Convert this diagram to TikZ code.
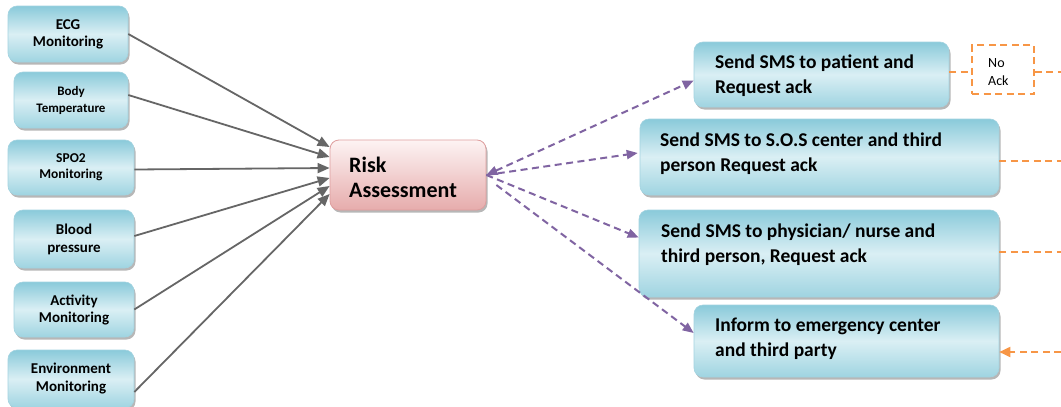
\documentclass[tikz,border=0pt]{standalone}
\usepackage{fontspec}
\setmainfont{Carlito}
\usetikzlibrary{arrows.meta,shadows,calc}
\definecolor{boxtop}{HTML}{8ACADA}
\definecolor{boxmid}{HTML}{DAEFF4}
\definecolor{boxbot}{HTML}{9FD4E1}
\definecolor{boxedge}{HTML}{A3D3E0}
\definecolor{risktop}{HTML}{FDF3F3}
\definecolor{riskbot}{HTML}{E6ACAC}
\definecolor{riskedge}{HTML}{DE9E9E}
\definecolor{garrowc}{HTML}{666666}
\definecolor{parrowc}{HTML}{8064A2}
\definecolor{oline}{HTML}{F79646}
\begin{document}
\begin{tikzpicture}[x=1pt,y=-1pt,
  bluebox/.style={rounded corners=9pt, draw=boxedge, line width=0.6pt,
    top color=boxtop, bottom color=boxbot, middle color=boxmid,
    drop shadow={shadow xshift=1.5pt, shadow yshift=-2.5pt, opacity=0.4, fill=black!70},
    inner sep=0pt, align=center},
  riskbox/.style={rounded corners=9pt, draw=riskedge, line width=0.8pt,
    top color=risktop, bottom color=riskbot,
    drop shadow={shadow xshift=1.5pt, shadow yshift=-2.5pt, opacity=0.4, fill=black!70},
    inner sep=0pt},
  txt/.style={anchor=west, align=left, inner sep=0pt},
  garrow/.style={draw=garrowc, line width=1.8pt, -{Triangle[length=12pt,width=10pt]}},
  parrow/.style={draw=parrowc, line width=2pt, dash pattern=on 7pt off 4.5pt},
  olinestyle/.style={draw=oline, line width=1.8pt, dash pattern=on 7pt off 4.5pt}
]
\fill[white] (0,0) rectangle (1061,407);
\useasboundingbox (0,0) rectangle (1061,407);

% left boxes
\node[bluebox, minimum width=120pt, minimum height=56pt, font=\fontsize{15}{17}\selectfont\bfseries] (ecg) at (68,34) {ECG\\Monitoring};
\node[bluebox, minimum width=114pt, minimum height=56pt, font=\fontsize{13}{17}\selectfont\bfseries] (body) at (71,100) {Body\\Temperature};
\node[bluebox, minimum width=126pt, minimum height=55pt, font=\fontsize{13.5}{16}\selectfont\bfseries] (spo) at (71,167.5) {SPO2\\Monitoring};
\node[bluebox, minimum width=120pt, minimum height=58pt, font=\fontsize{15}{18}\selectfont\bfseries] (blood) at (74,239) {Blood\\pressure};
\node[bluebox, minimum width=120pt, minimum height=55pt, font=\fontsize{15}{17}\selectfont\bfseries] (act) at (74,309.5) {Activity\\Monitoring};
\node[bluebox, minimum width=126pt, minimum height=58pt, font=\fontsize{15}{18}\selectfont\bfseries] (env) at (71,379) {Environment\\Monitoring};

% risk
\node[riskbox, minimum width=156pt, minimum height=70pt] (risk) at (408,175) {};
\node[txt, font=\fontsize{22}{25}\selectfont\bfseries] (risktxt) at (349,177.5) {Risk\\Assessment};

% right boxes
\node[bluebox, minimum width=255pt, minimum height=65pt] (b1) at (821.5,74.5) {};
\node[bluebox, minimum width=359pt, minimum height=76pt] (b2) at (819.5,157) {};
\node[bluebox, minimum width=360pt, minimum height=87pt] (b3) at (819,253.5) {};
\node[bluebox, minimum width=305pt, minimum height=72pt] (b4) at (846.5,341) {};
\node[txt, font=\fontsize{19.5}{25}\selectfont\bfseries] (t1) at (715,75.5) {Send SMS to patient and\\Request ack};
\node[txt, font=\fontsize{19.5}{25}\selectfont\bfseries] (t2) at (660,154) {Send SMS to S.O.S center and third\\person Request ack};
\node[txt, font=\fontsize{19.5}{25}\selectfont\bfseries] (t3) at (661,245) {Send SMS to physician/ nurse and\\third person, Request ack};
\node[txt, font=\fontsize{19.5}{25}\selectfont\bfseries] (t4) at (715,338.5) {Inform to emergency center\\and third party};

% no ack
\node[draw=oline, line width=1.8pt, dash pattern=on 7pt off 4.5pt, fill=white, minimum width=62pt, minimum height=49pt, inner sep=0pt] (noack) at (1003,69.5) {};
\node[txt, font=\fontsize{14}{18}\selectfont] (noacktxt) at (988,72) {No\\Ack};

% gray arrows
\draw[garrow] (ecg.east) -- ($(risk.west)+(0,-28)$);
\draw[garrow] ($(body.east)+(0,-5)$) -- ($(risk.west)+(0,-18)$);
\draw[garrow] ($(spo.east)+(0,2)$) -- ($(risk.west)+(0,-7)$);
\draw[garrow] ($(blood.east)+(0,-3)$) -- ($(risk.west)+(0,3)$);
\draw[garrow] (act.east) -- ($(risk.west)+(0,11)$);
\draw[garrow] ($(env.east)+(0,13)$) -- ($(risk.west)+(0,19)$);

% purple arrows
\draw[parrow, {Triangle[length=11pt,width=9pt]}-{Triangle[length=11pt,width=9pt]}] (risk.east) -- ($(b1.west)+(0,6)$);
\draw[parrow, -{Triangle[length=11pt,width=9pt]}] (risk.east) -- ($(b2.west)+(-2,-4)$);
\draw[parrow, -{Triangle[length=11pt,width=9pt]}] (risk.east) -- ($(b3.west)+(0,-16)$);
\draw[parrow, -{Triangle[length=11pt,width=9pt]}] ($(risk.east)+(10,10)$) -- ($(b4.west)+(0,-8)$);

% orange lines
\coordinate (e1) at (1061,72);
\coordinate (e2) at (1061,161);
\coordinate (e3) at (1061,252);
\coordinate (e4) at (1061,352);
\draw[olinestyle] (e1 -| b1.east) -- (e1 -| noack.west);
\draw[olinestyle] (e1 -| noack.east) -- (e1);
\draw[olinestyle] (e2 -| b2.east) -- (e2);
\draw[olinestyle] (e3 -| b3.east) -- (e3);
\draw[olinestyle, -{Triangle[length=11pt,width=10pt]}] (e4) -- (e4 -| b4.east);
\end{tikzpicture}
\end{document}
